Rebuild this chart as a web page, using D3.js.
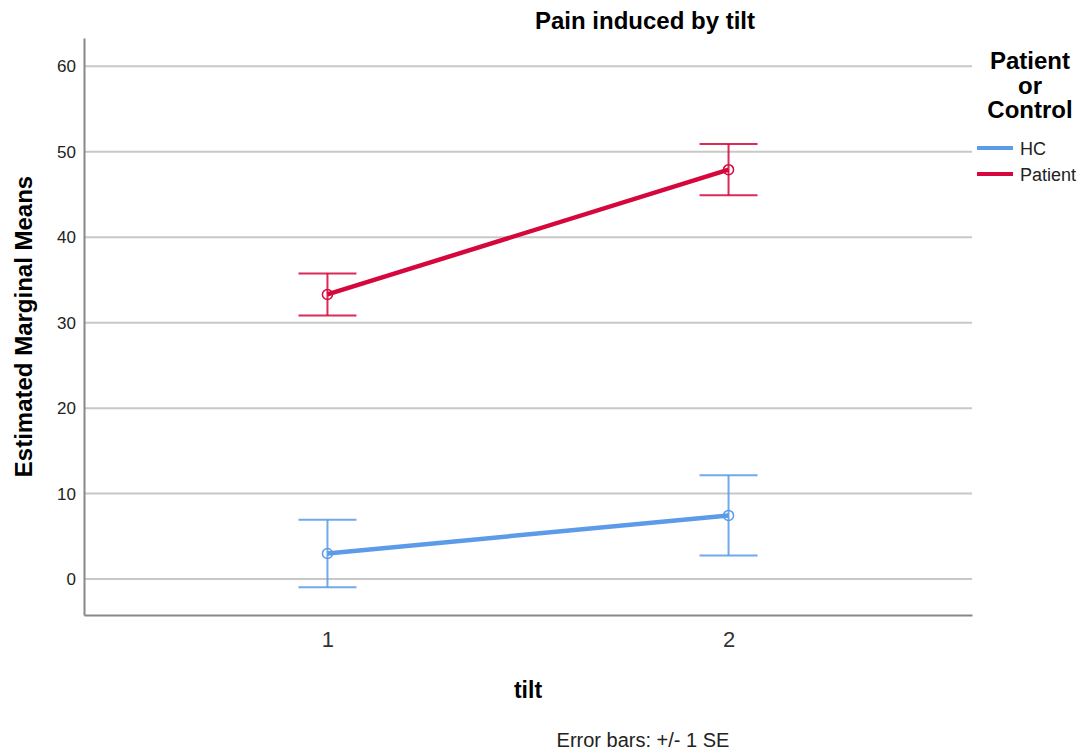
<!DOCTYPE html>
<html>
<head>
<meta charset="utf-8">
<script src="https://cdn.jsdelivr.net/npm/d3@7"></script>
<style>
  body { margin: 0; background: #fff; }
  text { font-family: "Liberation Sans", Arial, sans-serif; }
</style>
</head>
<body>
<div class="chart"></div>
<script>
// values
var tilts = ['1', '2'];
var groups = ['HC', 'Patient'];
var hcMeans = [3.0, 7.45];
var hcSE = [3.95, 4.7];
var patientMeans = [33.3, 47.9];
var patientSE = [2.45, 3.0];
var yTicks = [0, 10, 20, 30, 40, 50, 60];

var colors = { HC: '#5b9be8', Patient: '#d6073c' };

var width = 1089, height = 750;
var margin = { left: 84, right: 117, top: 38, bottom: 135 };

var series = [
  { name: 'HC', means: hcMeans, se: hcSE },
  { name: 'Patient', means: patientMeans, se: patientSE }
];

var svg = d3.select('.chart')
  .append('svg')
  .attr('width', width)
  .attr('height', height);

var x = d3.scalePoint()
  .domain(tilts)
  .range([margin.left, width - margin.right])
  .padding(0.607);

var y = d3.scaleLinear()
  .domain([-4.2, 63.3])
  .range([height - margin.bottom, margin.top]);

// gridlines
svg.append('g')
  .selectAll('line')
  .data(yTicks)
  .enter()
  .append('line')
  .attr('x1', margin.left)
  .attr('x2', width - margin.right)
  .attr('y1', function(d) { return y(d); })
  .attr('y2', function(d) { return y(d); })
  .style('stroke', '#c8c8c8')
  .style('stroke-width', 2);

// y axis
var yAxis = svg.append('g')
  .attr('transform', 'translate(' + margin.left + ',0)')
  .call(d3.axisLeft(y).tickValues(yTicks).tickSize(0).tickPadding(8));
yAxis.select('.domain').style('stroke', '#888').style('stroke-width', 2);
yAxis.selectAll('text').style('font-size', '17px').style('fill', '#222');

// x axis
var xAxis = svg.append('g')
  .attr('transform', 'translate(0,' + (height - margin.bottom) + ')')
  .call(d3.axisBottom(x).tickSize(0).tickPadding(16));
xAxis.select('.domain').style('stroke', '#888').style('stroke-width', 2);
xAxis.selectAll('text').style('font-size', '22px').style('fill', '#333');

// series
var line = d3.line()
  .x(function(d, i) { return x(tilts[i]); })
  .y(function(d) { return y(d); });

series.forEach(function(s) {
  var c = colors[s.name];
  var g = svg.append('g');

  // error bars
  s.means.forEach(function(m, i) {
    var cx = x(tilts[i]);
    var lo = m - s.se[i], hi = m + s.se[i];
    g.append('line')
      .attr('x1', cx).attr('x2', cx)
      .attr('y1', y(lo)).attr('y2', y(hi))
      .style('stroke', c).style('stroke-width', 2).style('opacity', 0.85);
    [lo, hi].forEach(function(v) {
      g.append('line')
        .attr('x1', cx - 29).attr('x2', cx + 29)
        .attr('y1', y(v)).attr('y2', y(v))
        .style('stroke', c).style('stroke-width', 2).style('opacity', 0.85);
    });
  });

  g.append('path')
    .datum(s.means)
    .attr('d', line)
    .style('fill', 'none')
    .style('stroke', c)
    .style('stroke-width', 4.5);

  g.selectAll('circle')
    .data(s.means)
    .enter()
    .append('circle')
    .attr('cx', function(d, i) { return x(tilts[i]); })
    .attr('cy', function(d) { return y(d); })
    .attr('r', 5)
    .style('fill', 'none')
    .style('stroke', c)
    .style('stroke-width', 1.5);
});

// titles
svg.append('text')
  .attr('x', 645).attr('y', 29)
  .attr('text-anchor', 'middle')
  .style('font-size', '24px').style('font-weight', 'bold')
  .text('Pain induced by tilt');

svg.append('text')
  .attr('x', (margin.left + width - margin.right) / 2).attr('y', 698)
  .attr('text-anchor', 'middle')
  .style('font-size', '23px').style('font-weight', 'bold')
  .text('tilt');

svg.append('text')
  .attr('transform', 'translate(32,' + (margin.top + height - margin.bottom) / 2 + ') rotate(-90)')
  .attr('text-anchor', 'middle')
  .style('font-size', '24px').style('font-weight', 'bold')
  .text('Estimated Marginal Means');

svg.append('text')
  .attr('x', 643).attr('y', 747)
  .attr('text-anchor', 'middle')
  .style('font-size', '20px').style('fill', '#222')
  .text('Error bars:  +/- 1 SE');

// legend
var legTitle = svg.append('text')
  .attr('text-anchor', 'middle')
  .style('font-size', '24px').style('font-weight', 'bold');
['Patient', 'or', 'Control'].forEach(function(t, i) {
  legTitle.append('tspan').attr('x', 1030).attr('y', 69 + i * 24.5).text(t);
});

var legend = svg.selectAll('.legend')
  .data(groups)
  .enter()
  .append('g')
  .attr('class', 'legend')
  .attr('transform', function(d, i) { return 'translate(977,' + (148 + i * 26) + ')'; });

legend.append('line')
  .attr('x1', 0).attr('x2', 36)
  .style('stroke', function(d) { return colors[d]; })
  .style('stroke-width', 4);

legend.append('text')
  .attr('x', 43).attr('y', 7)
  .style('font-size', '18px').style('fill', '#222')
  .text(function(d) { return d; });
</script>
</body>
</html>
